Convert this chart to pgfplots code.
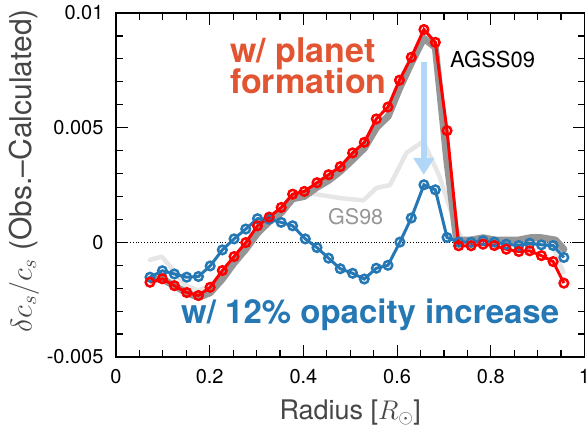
\RequirePackage{fix-cm}
\documentclass[border=0pt]{standalone}
\usepackage{fontspec}
\setmainfont{TeX Gyre Heros}
\usepackage{pgfplots}
\pgfplotsset{compat=1.18}
\usetikzlibrary{arrows.meta}

\definecolor{cred}{RGB}{255,0,0}
\definecolor{cblue}{RGB}{38,120,181}
\definecolor{tred}{RGB}{226,85,50}
\definecolor{agss}{RGB}{150,150,150}
\definecolor{gsn}{RGB}{230,230,230}
\definecolor{arrblue}{RGB}{176,214,248}
\definecolor{labgray}{RGB}{70,70,70}

\begin{document}
\begin{tikzpicture}
\begin{axis}[
  width=468.5pt, height=344pt, scale only axis,
  xmin=0, xmax=1, ymin=-0.005, ymax=0.01,
  clip=false,
  scaled x ticks=false, scaled y ticks=false,
  xtick={0,0.2,0.4,0.6,0.8,1}, xticklabels={0,0.2,0.4,0.6,0.8,1},
  ytick={-0.005,0,0.005,0.01}, yticklabels={-0.005,0,0.005,0.01},
  minor x tick num=3, minor y tick num=4,
  tick align=inside, major tick length=12pt, minor tick length=7pt,
  every tick/.style={black, line width=1.2pt},
  axis line style={line width=1.5pt},
  ticklabel style={font=\fontsize{20}{24}\selectfont},
  xticklabel style={yshift=-9pt},
  yticklabel style={xshift=-9pt},
]
\coordinate (bl) at (rel axis cs:0,0);
\coordinate (tr) at (rel axis cs:1,1);

% zero line
\addplot[black, dotted, line width=0.8pt] coordinates {(0,0) (1,0)};

% GS98
\addplot[gsn, line width=4.5pt, line join=round, line cap=round] coordinates {
(0.0726,-0.00077) (0.0975,-0.00062) (0.122,-0.0012) (0.147,-0.00186) (0.175,-0.0021)
(0.200,-0.0019) (0.227,-0.0014) (0.252,-0.0008) (0.277,-0.0002) (0.302,0.0005)
(0.327,0.0009) (0.353,0.0013) (0.377,0.0018) (0.393,0.00222) (0.4354,0.00207)
(0.478,0.00193) (0.528,0.00183) (0.556,0.00237) (0.585,0.0025) (0.620,0.0039)
(0.656,0.0044) (0.690,0.0029) (0.727,0.0006) (0.740,0.0001) (0.760,0.0001)
(0.800,0.0001) (0.850,0.0000) (0.900,0.0000) (0.933,-0.0002) (0.955,-0.0013)
};

% AGSS09
\addplot[agss, line width=7pt, line join=round, line cap=round] coordinates {
(0.0726,-0.0016) (0.099,-0.0016) (0.125,-0.0019) (0.151,-0.0022) (0.176,-0.0024)
(0.201,-0.0022) (0.227,-0.0016) (0.252,-0.0009) (0.277,-0.0003) (0.302,0.0004)
(0.327,0.0009) (0.353,0.0013) (0.377,0.0019) (0.402,0.0020) (0.429,0.0024)
(0.454,0.0027) (0.479,0.0031) (0.505,0.0036) (0.530,0.0041) (0.556,0.0050)
(0.581,0.0055) (0.605,0.0067) (0.630,0.0078) (0.657,0.0089) (0.6816,0.0085)
(0.7066,0.0035) (0.727,0.0001) (0.758,0.0001) (0.784,0.0002) (0.808,0.0001)
(0.833,0.0001) (0.860,0.0001) (0.884,0.0002) (0.908,0.0002) (0.938,0.0001)
(0.956,-0.0003)
};

% arrow
\addplot[arrblue, line width=6pt, -{Triangle[width=20pt,length=17pt]}] coordinates {(0.657,0.00786) (0.657,0.00294)};

% 12% opacity increase
\addplot[cblue, line width=3pt, mark=o, mark size=4.3pt,
  mark options={line width=2.5pt, fill=white}] coordinates {
(0.0726,-0.00152) (0.099,-0.00124) (0.1246,-0.00138) (0.151,-0.00152) (0.176,-0.00149)
(0.201,-0.00103) (0.227,-0.00033) (0.252,0.00015) (0.277,0.00058) (0.302,0.00103)
(0.327,0.00101) (0.3526,0.00087) (0.377,0.00072) (0.404,0.00015) (0.429,-0.00023)
(0.4537,-0.00069) (0.4786,-0.00115) (0.505,-0.00135) (0.530,-0.0016) (0.5556,-0.00113)
(0.5805,-0.0010) (0.606,0.00001) (0.6303,0.00106) (0.6573,0.00251) (0.6816,0.00229)
(0.7066,0.00021) (0.7314,0.00001) (0.758,0.0) (0.7835,0.00007) (0.8077,0.00001)
(0.833,-0.00008) (0.8597,-0.00014) (0.883,-0.00004) (0.908,-0.00011) (0.933,-0.00014)
(0.956,-0.00066)
};

% planet formation
\addplot[cred, line width=3pt, mark=o, mark size=4.3pt,
  mark options={line width=2.5pt, fill=white}] coordinates {
(0.0726,-0.00174) (0.099,-0.00159) (0.1246,-0.00189) (0.151,-0.00219) (0.176,-0.00232)
(0.2009,-0.00196) (0.227,-0.00123) (0.252,-0.00062) (0.277,-0.00001) (0.302,0.00072)
(0.327,0.0011) (0.3526,0.00152) (0.377,0.0021) (0.402,0.00222) (0.429,0.0026)
(0.4537,0.00295) (0.4786,0.0033) (0.505,0.0039) (0.530,0.00436) (0.5556,0.00538)
(0.5805,0.0059) (0.605,0.00707) (0.6303,0.00807) (0.6573,0.00928) (0.6816,0.00872)
(0.7066,0.00487) (0.7314,-0.00015) (0.758,-0.00015) (0.7835,-0.00008) (0.8077,-0.00014)
(0.833,-0.0003) (0.8597,-0.0004) (0.883,-0.00037) (0.908,-0.00058) (0.933,-0.00084)
(0.956,-0.00178)
};

% annotations
\node[anchor=base west, inner sep=0pt, text=tred, font=\bfseries\fontsize{34}{34}\selectfont]
  at (axis cs:0.2433,0.00782) {w/ planet};
\node[anchor=base west, inner sep=0pt, text=tred, font=\bfseries\fontsize{34}{34}\selectfont]
  at (axis cs:0.2433,0.00651) {formation};
\node[anchor=base west, inner sep=0pt, text=black, font=\fontsize{22}{22}\selectfont]
  at (axis cs:0.713,0.007645) {AGSS09};
\node[anchor=base west, inner sep=0pt, text=agss, font=\fontsize{21.5}{21.5}\selectfont]
  at (axis cs:0.4525,0.000756) {GS98};
\node[anchor=base west, inner sep=0pt, text=cblue, font=\bfseries\fontsize{33}{33}\selectfont]
  at (axis cs:0.1387,-0.003518) {w/ 12\% opacity increase};

% axis labels
\node[anchor=base, inner sep=0pt, text=labgray, font=\fontsize{27}{27}\selectfont]
  at (axis description cs:0.5,-0.183) {Radius [$R_\odot$]};
\node[rotate=90, inner sep=0pt, text=labgray, font=\fontsize{30}{30}\selectfont]
  at (axis description cs:-0.196,0.541) {$\delta c_s/c_s$ (Obs.--Calculated)};
\end{axis}
\pgfresetboundingbox
\path ([shift={(-116pt,-75pt)}]bl) rectangle ([shift={(1.5pt,13pt)}]tr);
\end{tikzpicture}
\end{document}
